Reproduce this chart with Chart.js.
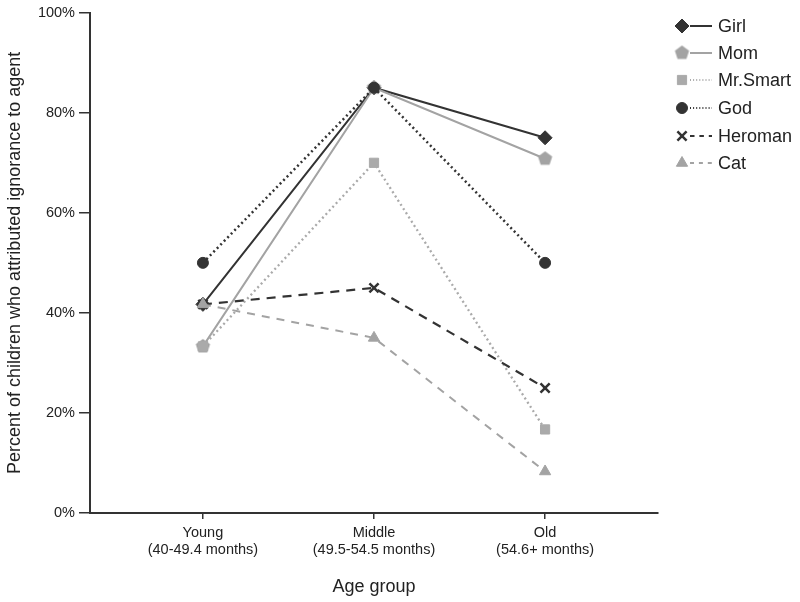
<!DOCTYPE html>
<html>
<head>
<meta charset="utf-8">
<script src="https://cdn.jsdelivr.net/npm/chart.js@4"></script>
<style>
  html, body { margin: 0; padding: 0; background: #fff; }
  #wrap { width: 800px; height: 602px; }
</style>
</head>
<body>
<div id="wrap"><canvas id="c" width="800" height="602"></canvas></div>
<script>
// age groups (x axis)
const groups = [
  ['Young', '(40-49.4 months)'],
  ['Middle', '(49.5-54.5 months)'],
  ['Old', '(54.6+ months)']
];
const yTicks = [0, 20, 40, 60, 80, 100];

// percent of children per agent
const girl     = [41.7, 85, 75];
const mom      = [33.3, 85, 70.8];
const mrSmart  = [33.3, 70, 16.7];
const god      = [50, 85, 50];
const heroman  = [41.7, 45, 25];
const cat      = [41.7, 35, 8.3];

const DARK = '#333333';
const GRAY = '#a3a3a3';
const FONT = '"Liberation Sans", Arial, sans-serif';

// pentagon marker for Mom (no built-in style)
function pentagon(r, color) {
  const c = document.createElement('canvas');
  c.width = c.height = r * 2 + 2;
  const ctx = c.getContext('2d');
  ctx.fillStyle = color;
  ctx.beginPath();
  for (let i = 0; i < 5; i++) {
    const a = -Math.PI / 2 + i * 2 * Math.PI / 5;
    const px = r + 1 + r * Math.cos(a), py = r + 1 + r * Math.sin(a);
    i ? ctx.lineTo(px, py) : ctx.moveTo(px, py);
  }
  ctx.closePath();
  ctx.fill();
  return c;
}

function series(label, values, color, dash, width, style, radius) {
  return {
    label,
    data: values.map((v, i) => ({ x: i, y: v })),
    borderColor: color,
    backgroundColor: color,
    borderWidth: width,
    borderDash: dash,
    pointStyle: style,
    pointRadius: radius,
    pointBorderWidth: style === 'crossRot' ? 2.5 : 1,
    pointBorderColor: color,
    pointBackgroundColor: color,
    tension: 0,
    fill: false
  };
}

const datasets = [
  series('Cat', cat, GRAY, [8, 7], 2, 'triangle', 6.5),
  series('Heroman', heroman, DARK, [9, 7], 2.2, 'crossRot', 6.5),
  series('God', god, DARK, [2, 3], 2.5, 'circle', 5.5),
  series('Mr.Smart', mrSmart, '#aaaaaa', [2, 3], 2.3, 'rect', 6.5),
  series('Mom', mom, GRAY, [], 2, pentagon(7.5, GRAY), 7.5),
  series('Girl', girl, DARK, [], 2, 'rectRot', 7)
];

// legend drawn on canvas: marker, line stub, label
const legendPlugin = {
  id: 'sideLegend',
  afterDraw(chart) {
    const ctx = chart.ctx;
    const order = ['Girl', 'Mom', 'Mr.Smart', 'God', 'Heroman', 'Cat'];
    const rows = [26, 53, 80, 108, 136, 163];
    order.forEach((name, i) => {
      const ds = chart.data.datasets.find(d => d.label === name);
      const y = rows[i];
      ctx.save();
      ctx.strokeStyle = ds.borderColor;
      ctx.lineWidth = 2;
      ctx.setLineDash(ds.borderDash.length ? [ds.borderDash[0] * 0.5, ds.borderDash[1] * 0.7] : []);
      ctx.beginPath();
      ctx.moveTo(690, y);
      ctx.lineTo(712, y);
      ctx.stroke();
      ctx.setLineDash([]);
      ctx.fillStyle = ds.backgroundColor;
      ctx.strokeStyle = ds.borderColor;
      ctx.lineWidth = ds.pointBorderWidth;
      Chart.helpers.drawPoint(ctx, { pointStyle: ds.pointStyle, radius: ds.pointRadius, rotation: 0, borderWidth: ds.pointBorderWidth }, 682, y);
      ctx.fillStyle = '#222';
      ctx.font = '18px ' + FONT;
      ctx.textBaseline = 'middle';
      ctx.textAlign = 'left';
      ctx.fillText(name, 718, y + 1);
      ctx.restore();
    });
  }
};

new Chart(document.getElementById('c'), {
  type: 'line',
  data: { datasets },
  plugins: [legendPlugin],
  options: {
    responsive: false,
    animation: false,
    layout: { padding: { top: 11, right: 142, left: 0, bottom: 0 } },
    scales: {
      x: {
        type: 'linear',
        min: -0.66,
        max: 2.66,
        afterBuildTicks(axis) { axis.ticks = groups.map((g, i) => ({ value: i })); },
        afterFit(axis) { axis.height = 89; },
        grid: { drawOnChartArea: false, drawTicks: true, tickLength: 6, color: DARK, lineWidth: 1.5 },
        border: { display: true, color: DARK, width: 2 },
        ticks: {
          color: '#222',
          padding: 6,
          font: { family: FONT, size: 14.5, lineHeight: 1.15 },
          callback: (v) => groups[v]
        },
        title: {
          display: true,
          text: 'Age group',
          color: '#222',
          font: { family: FONT, size: 18 },
          padding: { top: 8 }
        }
      },
      y: {
        min: 0,
        max: 100,
        afterBuildTicks(axis) { axis.ticks = yTicks.map(v => ({ value: v })); },
        afterFit(axis) { axis.width = 90; },
        grid: { drawOnChartArea: false, drawTicks: true, tickLength: 11, color: DARK, lineWidth: 1.5 },
        border: { display: true, color: DARK, width: 2 },
        ticks: {
          color: '#222',
          padding: 4,
          font: { family: FONT, size: 14.5 },
          callback: (v) => v + '%'
        },
        title: {
          display: true,
          text: 'Percent of children who attributed ignorance to agent',
          color: '#222',
          font: { family: FONT, size: 18 },
          padding: { bottom: 0 }
        }
      }
    },
    plugins: {
      legend: { display: false },
      tooltip: { enabled: false }
    }
  }
});
</script>
</body>
</html>
